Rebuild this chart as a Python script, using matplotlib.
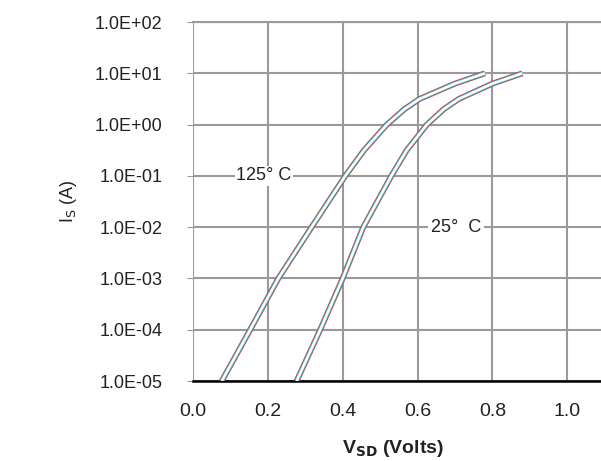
import numpy as np
import matplotlib.pyplot as plt
from matplotlib.ticker import FixedLocator, NullLocator

plt.rcParams['font.family'] = ['Liberation Sans', 'DejaVu Sans']

# source current (A) and forward voltage (V)
i_s = [1e-5, 1e-4, 1e-3, 1e-2, 1e-1, 0.316, 1.0, 2.0, 3.16, 6.3, 10.0]
v_125 = [0.077, 0.153, 0.228, 0.317, 0.407, 0.457, 0.518, 0.565, 0.605, 0.700, 0.780]
v_25 = [0.277, 0.340, 0.400, 0.455, 0.530, 0.571, 0.625, 0.670, 0.710, 0.800, 0.880]

y_ticks = [1e-5, 1e-4, 1e-3, 1e-2, 1e-1, 1e0, 1e1, 1e2]
y_labels = ['1.0E-05', '1.0E-04', '1.0E-03', '1.0E-02', '1.0E-01',
            '1.0E+00', '1.0E+01', '1.0E+02']
x_ticks = [0.0, 0.2, 0.4, 0.6, 0.8, 1.0]
x_labels = ['0.0', '0.2', '0.4', '0.6', '0.8', '1.0']

fig = plt.figure(figsize=(6.01, 4.61), dpi=100)
ax = fig.add_axes([0.321, 0.1735, 0.679, 0.7787])

ax.set_yscale('log')
ax.set_xlim(0, 1.09)
ax.set_ylim(1e-5, 1e2)

# curves are drawn as hollow double lines
for v in (v_125, v_25):
    ax.plot(v, i_s, color='#c04848', lw=4.2, solid_capstyle='butt', zorder=3)
    ax.plot(v, i_s, color='#40b8c8', lw=3.0, solid_capstyle='butt', zorder=3)
    ax.plot(v, i_s, color='white', lw=1.8, solid_capstyle='butt', zorder=4)

ax.text(0.115, 1e-1, '125\u00b0 C', fontsize=13, color='#222222', va='center',
        ha='left', bbox=dict(facecolor='white', edgecolor='none', pad=1), zorder=5)
ax.text(0.635, 1e-2, '25\u00b0  C', fontsize=13, color='#222222', va='center',
        ha='left', bbox=dict(facecolor='white', edgecolor='none', pad=2), zorder=5)

ax.yaxis.set_major_locator(FixedLocator(y_ticks))
ax.yaxis.set_minor_locator(NullLocator())
ax.set_yticklabels(y_labels)
ax.set_xticks(x_ticks)
ax.set_xticklabels(x_labels)

ax.grid(True, color='#9a9a9a', lw=1.5)
ax.set_axisbelow(True)
ax.tick_params(axis='y', length=4, color='#9a9a9a', pad=18, labelsize=13,
               labelcolor='#222222')
ax.tick_params(axis='x', length=0, pad=16, labelsize=14, labelcolor='#222222')

for side in ('left', 'right'):
    ax.spines[side].set_visible(False)
ax.spines['top'].set_color('#9a9a9a')
ax.spines['top'].set_linewidth(1.5)
ax.spines['bottom'].set_color('black')
ax.spines['bottom'].set_linewidth(1.8)

ax.set_xlabel(r'V$_{\mathbf{SD}}$ (Volts)', fontsize=14, fontweight='bold',
              color='#222222')
ax.xaxis.set_label_coords(0.49, -0.16)
ax.set_ylabel(r'I$_{\mathrm{S}}$ (A)', fontsize=13, color='#222222')
ax.yaxis.set_label_coords(-0.28, 0.5)

fig.savefig('out.png', dpi=100)
